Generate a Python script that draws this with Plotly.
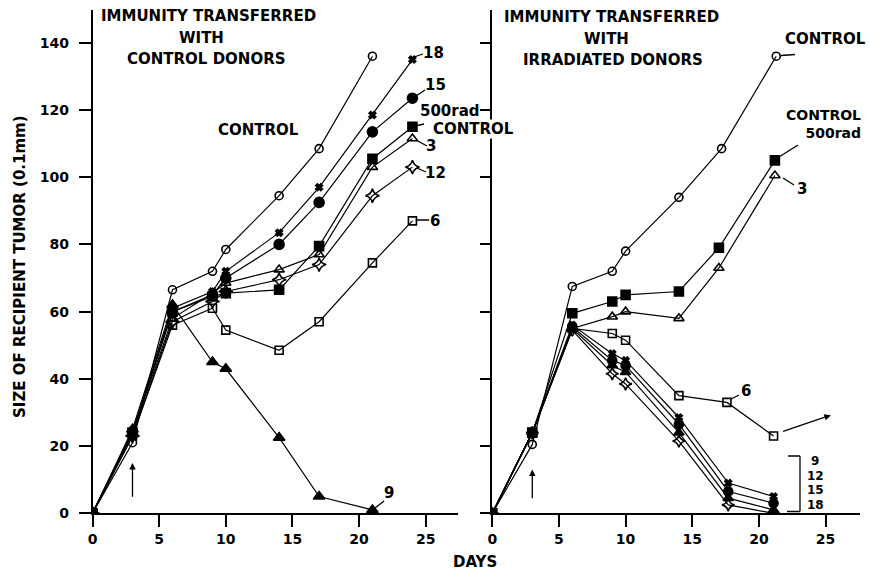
import plotly.graph_objects as go

# ---------------- data (days, tumor size in 0.1 mm) ----------------
# Left panel: immunity transferred with control donors
days_L = [0, 3, 6, 9, 10, 14, 17, 21, 24]
control_L = [0, 21, 66.5, 72, 78.5, 94.5, 108.5, 136]
d18_L = [0, 24, 61, 66, 72, 83.5, 97, 118.5, 135]
d15_L = [0, 24, 60, 65, 70, 80, 92.5, 113.5, 123.5]
rad500_L = [0, 24, 60, 64.5, 65.5, 66.5, 79.5, 105.5, 115]
d3_L = [0, 24, 58, 65.5, 68.5, 72.5, 77, 103, 111.5]
d12_L = [0, 23, 57, 63, 66, 69.5, 74, 94.5, 103]
d6_L = [0, 23, 56, 61, 54.5, 48.5, 57, 74.5, 87]
d9_L = [0, 25, 62, 45, 43, 22.5, 5, 1]

# Right panel: immunity transferred with irradiated donors
days_R_ctrl = [0, 3, 6, 9, 10, 14, 17.2, 21.3]
control_R = [0, 20.5, 67.5, 72, 78, 94, 108.5, 136]
days_R_rad = [0, 3, 6, 9, 10, 14, 17, 21.2]
rad500_R = [0, 24, 59.5, 63, 65, 66, 79, 105]
d3_R = [0, 24, 55, 58.5, 60, 58, 73, 100.5]
days_R_6 = [0, 3, 6, 9, 10, 14, 17.6, 21.1]
d6_R = [0, 24, 55, 53.5, 51.5, 35, 33, 23]
days_R_low = [0, 3, 6, 9, 10, 14, 17.7, 21.1]
d18_R = [0, 24, 56, 47.5, 45.5, 28.5, 9, 5]
d15_R = [0, 24, 55.5, 45.5, 44, 26.5, 6.5, 3]
d9_R = [0, 24, 55, 44, 42, 24, 4.5, 1]
d12_R = [0, 24, 54.5, 41.5, 38.5, 21.5, 2.5, 0]

x_ticks = [0, 5, 10, 15, 20, 25]
y_ticks = [0, 20, 40, 60, 80, 100, 120, 140]

# ---------------- geometry helpers (pixel -> data) ----------------
W, H = 870, 571
X0L, X0R, PXD = 92.5, 492.3, 13.33
Y0, PYU = 513.3, 3.361
XMAX_L, XMAX_R, YMAX = 27.4, 27.6, 149.7


def dl(px, py):
    return (px - X0L) / PXD, (Y0 - py) / PYU


def dr(px, py):
    return (px - X0R) / PXD, (Y0 - py) / PYU


FONT = "DejaVu Sans"
BLK = "black"

fig = go.Figure()


def series(x, y, symbol, size, xa="x", ya="y"):
    fig.add_trace(go.Scatter(
        x=x[:len(y)], y=y, xaxis=xa, yaxis=ya, mode="lines+markers",
        line=dict(color=BLK, width=1.2),
        marker=dict(symbol=symbol, size=size, color=BLK,
                    line=dict(color=BLK, width=1.6)),
        showlegend=False, hoverinfo="x+y"))


# left panel
series(days_L, control_L, "circle-open", 8)
series(days_L, d6_L, "square-open", 8)
series(days_L, d9_L, "triangle-up", 10)
series(days_L, d12_L, "star-diamond-open", 10)
series(days_L, d3_L, "triangle-up-open", 9)
series(days_L, rad500_L, "square", 9)
series(days_L, d15_L, "circle", 10)
series(days_L, d18_L, "x", 6)

# right panel
series(days_R_ctrl, control_R, "circle-open", 8, "x2", "y2")
series(days_R_6, d6_R, "square-open", 8, "x2", "y2")
series(days_R_rad, d3_R, "triangle-up-open", 9, "x2", "y2")
series(days_R_rad, rad500_R, "square", 9, "x2", "y2")
series(days_R_low, d12_R, "star-diamond-open", 9, "x2", "y2")
series(days_R_low, d9_R, "triangle-up", 9, "x2", "y2")
series(days_R_low, d15_R, "circle", 9, "x2", "y2")
series(days_R_low, d18_R, "x", 6, "x2", "y2")

annotations = []
shapes = []


def label(text, px, py, size=15, bg=None, xanchor="center", align="center"):
    a = dict(text=text, x=px / W, y=1 - py / H, xref="paper", yref="paper",
             showarrow=False, xanchor=xanchor, yanchor="middle", align=align,
             font=dict(family=FONT, size=size, color=BLK, weight="bold"))
    if bg:
        a["bgcolor"] = bg
        a["borderpad"] = 0
    annotations.append(a)


def leader(p1, p2, side="L"):
    f = dl if side == "L" else dr
    x1, y1 = f(*p1)
    x2, y2 = f(*p2)
    shapes.append(dict(type="line", x0=x1, y0=y1, x1=x2, y1=y2,
                       xref="x" if side == "L" else "x2", yref="y" if side == "L" else "y2",
                       line=dict(color=BLK, width=1.3)))


# titles
for txt, px, py in [("IMMUNITY TRANSFERRED", 208, 16), ("WITH", 201, 38),
                    ("CONTROL DONORS", 206, 59),
                    ("IMMUNITY TRANSFERRED", 611, 17), ("WITH", 606, 39),
                    ("IRRADIATED DONORS", 613, 60)]:
    label(txt, px, py)

# left labels
label("CONTROL", 258, 130)
label("18", 433, 53)
leader((414, 57), (423, 54))
label("15", 435, 85)
leader((416, 96), (425, 90))
label("500rad", 450, 111)
label("CONTROL", 473, 129, bg="white")
leader((415, 126), (424, 124))
label("3", 431, 146)
leader((416, 140), (427, 146))
label("12", 436, 173)
leader((417, 168), (426, 172))
label("6", 435, 221)
leader((417, 220), (429, 220))
label("9", 389, 493)
leader((375, 508), (384, 501))

# right labels
label("CONTROL", 825, 39)
leader((781, 55.5), (795, 54.5), "R")
label("CONTROL<br>500rad", 863, 124, 14, xanchor="right", align="right")
leader((779, 157), (798, 145), "R")
label("3", 802, 189)
leader((783, 178), (794, 185), "R")
label("6", 746, 391)
leader((731, 399), (739, 395), "R")
for txt, py in [("9", 461), ("12", 475.5), ("15", 490), ("18", 504.5)]:
    label(txt, 815, py, 12)
leader((788, 456), (800, 456), "R")
leader((800, 456), (800, 511.5), "R")
leader((787, 511.5), (800, 511.5), "R")

# arrows (injection at day 3, and the continuing square on the right)
for xa, ya, head, tail in [("x", "y", 15, 4.5), ("x2", "y2", 13, 4)]:
    annotations.append(dict(x=3, y=head, ax=3, ay=tail, xref=xa, yref=ya,
                            axref=xa, ayref=ya, showarrow=True, arrowhead=2,
                            arrowsize=1, arrowwidth=1.3, arrowcolor=BLK, text=""))
annotations.append(dict(x=25.4, y=29.2, ax=21.7, ay=24.2, xref="x2", yref="y2",
                        axref="x2", ayref="y2", showarrow=True, arrowhead=2,
                        arrowsize=1, arrowwidth=1.3, arrowcolor=BLK, text=""))

# axis titles
label("DAYS", 475, 562)
annotations.append(dict(text="SIZE OF RECIPIENT TUMOR (0.1mm)", x=20 / W, y=1 - 267 / H,
                        xref="paper", yref="paper", showarrow=False, textangle=-90,
                        xanchor="center", yanchor="middle",
                        font=dict(family=FONT, size=15, color=BLK, weight="bold")))

tickfont = dict(family=FONT, size=14, color=BLK, weight="bold")
ydom = [1 - Y0 / H, 1 - (Y0 - YMAX * PYU) / H]
axis_common = dict(showline=True, linecolor=BLK, linewidth=1.6, showgrid=False,
                   zeroline=False, ticks="outside", tickcolor=BLK, tickwidth=1.5,
                   automargin=False)

fig.update_layout(
    template="none",
    width=W, height=H, margin=dict(l=0, r=0, t=0, b=0, pad=0, autoexpand=False),
    paper_bgcolor="white", plot_bgcolor="white", showlegend=False,
    xaxis=dict(domain=[X0L / W, (X0L + XMAX_L * PXD) / W], range=[0, XMAX_L],
               tickvals=x_ticks, ticklen=12, anchor="y", tickfont=tickfont, **axis_common),
    xaxis2=dict(domain=[X0R / W, (X0R + XMAX_R * PXD) / W], range=[0, XMAX_R],
                tickvals=x_ticks, ticklen=12, anchor="y2", tickfont=tickfont, **axis_common),
    yaxis=dict(domain=ydom, range=[0, YMAX], tickvals=y_ticks, ticklen=12,
               ticklabelstandoff=7, anchor="x", tickfont=tickfont, **axis_common),
    yaxis2=dict(domain=ydom, range=[0, YMAX], tickvals=y_ticks, ticklen=11,
                anchor="x2", showticklabels=False, **axis_common),
    annotations=annotations, shapes=shapes,
)

fig.write_html("out.html", config={"displayModeBar": False},
               post_script="document.body.style.margin='0';document.body.style.overflow='hidden';")
